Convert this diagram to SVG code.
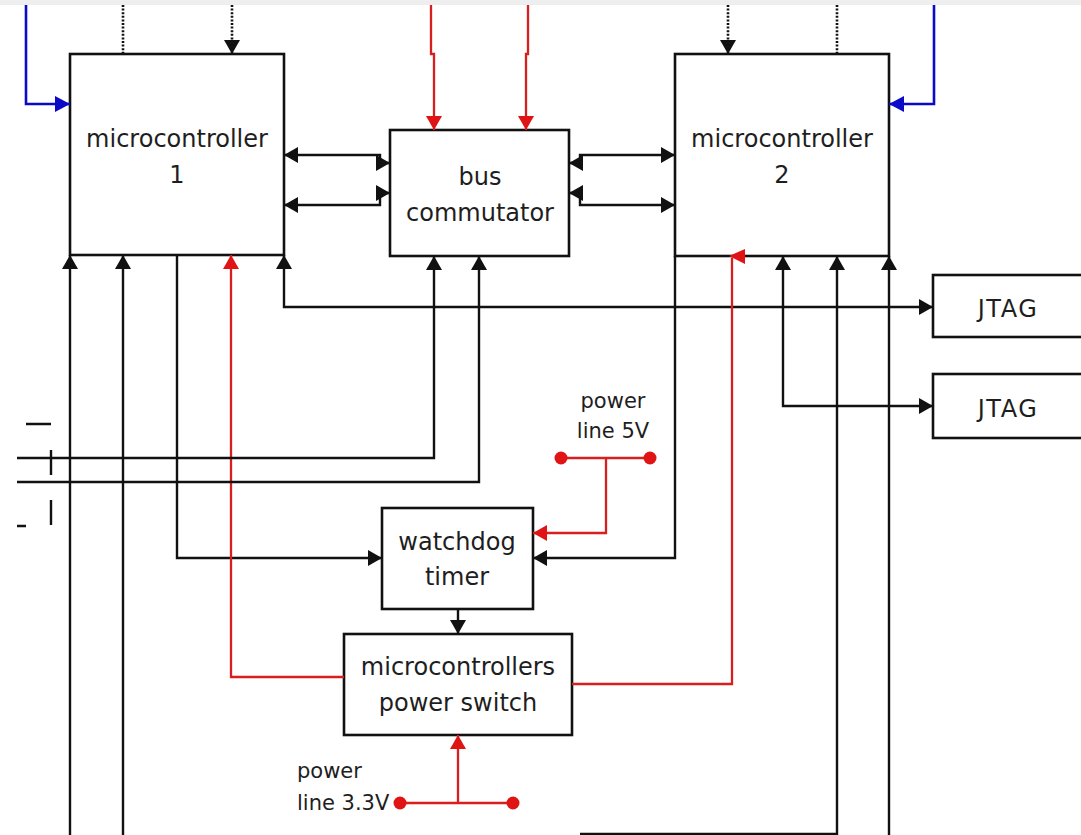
<svg xmlns="http://www.w3.org/2000/svg" width="1081" height="835" viewBox="0 0 1081 835">
<defs>
<style>
.box{fill:#fff;stroke:#111;stroke-width:2.6}
.t{font-family:"DejaVu Sans",Verdana,sans-serif;font-size:24px;fill:#1e1e1e;text-anchor:middle}
.ts{font-family:"DejaVu Sans",Verdana,sans-serif;font-size:21px;fill:#1e1e1e}
.k{fill:none;stroke:#111;stroke-width:2.4}
.r{fill:none;stroke:#d81e1e;stroke-width:2.3}
.b{fill:none;stroke:#0a0ac8;stroke-width:2.6}
.d{fill:none;stroke:#111;stroke-width:2.6;stroke-dasharray:2 1.6}
</style>
<marker id="ak" markerUnits="userSpaceOnUse" markerWidth="16" markerHeight="16" refX="14" refY="8" orient="auto-start-reverse" viewBox="0 0 16 16"><path d="M0,0 L14,8 L0,16 z" fill="#111"/></marker>
<marker id="ar" markerUnits="userSpaceOnUse" markerWidth="16" markerHeight="16" refX="14" refY="8" orient="auto-start-reverse" viewBox="0 0 16 16"><path d="M0,0 L14,8 L0,16 z" fill="#e01414"/></marker>
<marker id="ab" markerUnits="userSpaceOnUse" markerWidth="16" markerHeight="16" refX="15" refY="8" orient="auto" viewBox="0 0 16 16"><path d="M0,0 L15,8 L0,16 z" fill="#0a0ac8"/></marker>
</defs>
<rect x="0" y="0" width="1081" height="835" fill="#fff"/>
<rect x="0" y="0" width="1081" height="5" fill="#eeeeee"/>

<g id="mc1">
<rect class="box" x="70" y="54" width="214" height="201"/>
<text class="t" x="177" y="147">microcontroller</text>
<text class="t" x="177" y="183">1</text>
</g>
<g id="bus">
<rect class="box" x="390" y="130" width="179" height="126"/>
<text class="t" x="480" y="185">bus</text>
<text class="t" x="480" y="221">commutator</text>
</g>
<g id="mc2">
<rect class="box" x="675" y="54" width="214" height="202"/>
<text class="t" x="782" y="147">microcontroller</text>
<text class="t" x="782" y="183">2</text>
</g>
<g id="jtag1">
<rect class="box" x="933" y="275" width="160" height="62"/>
<text class="t" x="1008" y="317" letter-spacing="1.5">JTAG</text>
</g>
<g id="jtag2">
<rect class="box" x="933" y="374" width="160" height="64"/>
<text class="t" x="1008" y="417" letter-spacing="1.5">JTAG</text>
</g>
<g id="watchdog">
<rect class="box" x="382" y="508" width="151" height="101"/>
<text class="t" x="457" y="550">watchdog</text>
<text class="t" x="457" y="585">timer</text>
</g>
<g id="switch">
<rect class="box" x="344" y="634" width="228" height="101"/>
<text class="t" x="458" y="675">microcontrollers</text>
<text class="t" x="458" y="711">power switch</text>
</g>
<g id="p5v">
<text class="ts" x="613" y="408" text-anchor="middle">power</text>
<text class="ts" x="613" y="438" text-anchor="middle">line 5V</text>
</g>
<g id="p33v">
<text class="ts" x="297" y="778">power</text>
<text class="ts" x="297" y="810">line 3.3V</text>
</g>

<g id="connectors">
<path class="b" d="M26,5 V104 H70" marker-end="url(#ab)"/>
<path class="b" d="M934,5 V104 H889" marker-end="url(#ab)"/>
<path class="d" d="M123,5 V54"/>
<path class="d" d="M232,5 V54" marker-end="url(#ak)"/>
<path class="d" d="M728,5 V54" marker-end="url(#ak)"/>
<path class="d" d="M837,5 V54"/>
<path class="r" d="M431,5 V54 H434 V130" marker-end="url(#ar)"/>
<path class="r" d="M528,5 V54 H526 V130" marker-end="url(#ar)"/>
<path class="k" d="M390,163 H380 V155 H284" marker-start="url(#ak)" marker-end="url(#ak)"/>
<path class="k" d="M390,193 H380 V205 H284" marker-start="url(#ak)" marker-end="url(#ak)"/>
<path class="k" d="M569,163 H580 V155 H675" marker-start="url(#ak)" marker-end="url(#ak)"/>
<path class="k" d="M569,193 H580 V205 H675" marker-start="url(#ak)" marker-end="url(#ak)"/>
<path class="k" d="M70,835 V255" marker-end="url(#ak)"/>
<path class="k" d="M123,835 V255" marker-end="url(#ak)"/>
<path class="k" d="M177,255 V558 H382" marker-end="url(#ak)"/>
<path class="r" d="M344,677 H231 V255" marker-end="url(#ar)"/>
<path class="k" d="M933,307 H284 V255" marker-start="url(#ak)" marker-end="url(#ak)"/>
<path class="k" d="M17,458 H434 V256" marker-end="url(#ak)"/>
<path class="k" d="M17,482 H479 V256" marker-end="url(#ak)"/>
<path class="k" d="M675,256 V558 H533" marker-end="url(#ak)"/>
<path class="r" d="M572,684 H732 V258"/>
<polygon points="729,256 745,249 745,264" fill="#e01414"/>
<path class="k" d="M783,256 V406 H933" marker-start="url(#ak)" marker-end="url(#ak)"/>
<path class="k" d="M837,256 V834 H580" marker-start="url(#ak)"/>
<path class="k" d="M889,256 V835" marker-start="url(#ak)"/>
<path class="k" d="M458,609 V634" marker-end="url(#ak)"/>
<path class="r" d="M561,458 H650 M606,458 V533 H533" marker-end="url(#ar)"/>
<circle cx="561" cy="458" r="6.5" fill="#e01414"/>
<circle cx="650" cy="458" r="6.5" fill="#e01414"/>
<path class="r" d="M400,803 H513 M458,803 V735" marker-end="url(#ar)"/>
<circle cx="400" cy="803" r="6.5" fill="#e01414"/>
<circle cx="513" cy="803" r="6.5" fill="#e01414"/>
<path class="k" d="M26,424 H51 M51,450 V475 M51,500 V525 M17,526 H26"/>
</g>
</svg>
